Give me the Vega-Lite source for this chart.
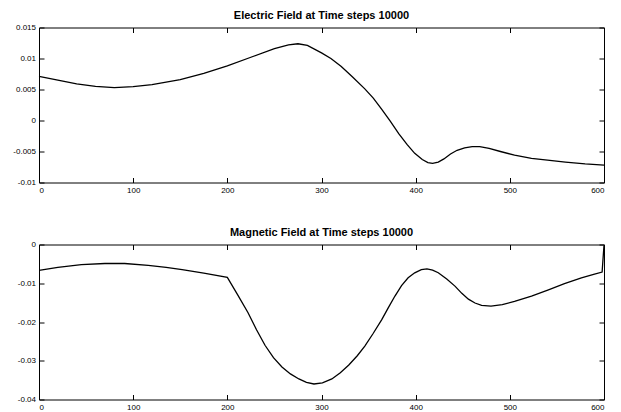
{
  "$schema": "https://vega.github.io/schema/vega-lite/v6.json",
  "autosize": {"type": "pad"},
  "padding": {"left": 12, "top": 9.5, "right": 5, "bottom": 2},
  "bounds": "flush",
  "spacing": 62,
  "background": "white",
  "config": {
    "font": "Liberation Sans",
    "view": {"stroke": null},
    "axis": {
      "grid": false,
      "title": null,
      "domainColor": "black",
      "domainWidth": 1,
      "tickColor": "black",
      "tickWidth": 1,
      "tickSize": -5,
      "labelColor": "black",
      "labelFont": "Liberation Sans",
      "labelFontSize": 8
    },
    "axisX": {"labelPadding": 9},
    "axisY": {"labelPadding": 8.5},
    "title": {"font": "Liberation Sans", "fontSize": 11, "fontWeight": "bold", "color": "black", "offset": 2.5, "anchor": "middle"}
  },
  "datasets": {
    "electric": [
      {"x": 0, "v": 0.0071}, {"x": 20, "v": 0.0065}, {"x": 40, "v": 0.0059}, {"x": 60, "v": 0.0055},
      {"x": 80, "v": 0.0053}, {"x": 100, "v": 0.00545}, {"x": 120, "v": 0.0058}, {"x": 150, "v": 0.0066},
      {"x": 175, "v": 0.0076}, {"x": 200, "v": 0.0088}, {"x": 225, "v": 0.0102}, {"x": 250, "v": 0.0116},
      {"x": 265, "v": 0.0122}, {"x": 275, "v": 0.01238}, {"x": 285, "v": 0.0121}, {"x": 300, "v": 0.0109},
      {"x": 310, "v": 0.0100}, {"x": 321, "v": 0.0087}, {"x": 333, "v": 0.0070}, {"x": 346, "v": 0.0051},
      {"x": 355, "v": 0.0036}, {"x": 364, "v": 0.0018}, {"x": 373, "v": -0.0001}, {"x": 382, "v": -0.0021},
      {"x": 391, "v": -0.0039}, {"x": 399, "v": -0.0053}, {"x": 407, "v": -0.0063}, {"x": 413, "v": -0.0068},
      {"x": 418, "v": -0.0069}, {"x": 424, "v": -0.0067}, {"x": 430, "v": -0.0062}, {"x": 437, "v": -0.0054},
      {"x": 444, "v": -0.0048}, {"x": 452, "v": -0.0044}, {"x": 460, "v": -0.0042}, {"x": 468, "v": -0.0042},
      {"x": 478, "v": -0.0045}, {"x": 490, "v": -0.0050}, {"x": 505, "v": -0.0056},
      {"x": 523, "v": -0.0061}, {"x": 540, "v": -0.0064}, {"x": 559, "v": -0.0067}, {"x": 580, "v": -0.0070},
      {"x": 600, "v": -0.0072}
    ],
    "magnetic": [
      {"x": 0, "v": -0.0067}, {"x": 20, "v": -0.0059}, {"x": 45, "v": -0.0052}, {"x": 70, "v": -0.0049},
      {"x": 91, "v": -0.0049}, {"x": 116, "v": -0.0054}, {"x": 135, "v": -0.0059}, {"x": 152, "v": -0.0065},
      {"x": 175, "v": -0.0074}, {"x": 200, "v": -0.0085}, {"x": 211, "v": -0.0130}, {"x": 222, "v": -0.0176},
      {"x": 231, "v": -0.0220}, {"x": 240, "v": -0.0260}, {"x": 249, "v": -0.0292}, {"x": 258, "v": -0.0316},
      {"x": 267, "v": -0.0334}, {"x": 276, "v": -0.0347}, {"x": 284, "v": -0.0356}, {"x": 292, "v": -0.0360},
      {"x": 301, "v": -0.0357}, {"x": 311, "v": -0.0347}, {"x": 320, "v": -0.0331}, {"x": 329, "v": -0.0311},
      {"x": 338, "v": -0.0287}, {"x": 346, "v": -0.0262}, {"x": 355, "v": -0.0229}, {"x": 364, "v": -0.0194},
      {"x": 371, "v": -0.0163}, {"x": 378, "v": -0.0133}, {"x": 385, "v": -0.0106}, {"x": 392, "v": -0.0086},
      {"x": 399, "v": -0.0073}, {"x": 406, "v": -0.0065}, {"x": 412, "v": -0.0063}, {"x": 418, "v": -0.0066},
      {"x": 424, "v": -0.0073}, {"x": 433, "v": -0.0089}, {"x": 442, "v": -0.0108}, {"x": 449, "v": -0.0126},
      {"x": 456, "v": -0.0141}, {"x": 463, "v": -0.0151}, {"x": 470, "v": -0.0157}, {"x": 480, "v": -0.0159},
      {"x": 492, "v": -0.0155}, {"x": 505, "v": -0.0147}, {"x": 523, "v": -0.0133}, {"x": 541, "v": -0.0117},
      {"x": 558, "v": -0.0101}, {"x": 576, "v": -0.0086}, {"x": 589, "v": -0.0077}, {"x": 598, "v": -0.0071},
      {"x": 600, "v": -0.0002}
    ]
  },
  "vconcat": [
    {
      "title": "Electric Field at Time steps 10000",
      "width": 565,
      "height": 155,
      "data": {"name": "electric"},
      "layer": [
        {
          "mark": {"type": "line", "color": "black", "strokeWidth": 1.3},
          "encoding": {
            "x": {"field": "x", "type": "quantitative", "scale": {"domain": [0, 600], "nice": false, "zero": false},
                  "axis": {"orient": "bottom", "values": [0, 100, 200, 300, 400, 500, 600]}},
            "y": {"field": "v", "type": "quantitative", "scale": {"domain": [-0.01, 0.015], "nice": false, "zero": false},
                  "axis": {"orient": "left", "values": [-0.01, -0.005, 0, 0.005, 0.01, 0.015],
                           "labelExpr": "datum.value < 0 ? '-' + format(-datum.value, '~g') : format(datum.value, '~g')"}}
          }
        },
        {
          "mark": {"type": "line", "opacity": 0},
          "encoding": {
            "x": {"field": "x", "type": "quantitative", "axis": {"orient": "top", "labels": false, "values": [0, 100, 200, 300, 400, 500, 600]}},
            "y": {"field": "v", "type": "quantitative", "axis": {"orient": "right", "labels": false, "values": [-0.01, -0.005, 0, 0.005, 0.01, 0.015]}}
          }
        }
      ],
      "resolve": {"axis": {"x": "independent", "y": "independent"}}
    },
    {
      "title": "Magnetic Field at Time steps 10000",
      "width": 565,
      "height": 155,
      "data": {"name": "magnetic"},
      "layer": [
        {
          "mark": {"type": "line", "color": "black", "strokeWidth": 1.3},
          "encoding": {
            "x": {"field": "x", "type": "quantitative", "scale": {"domain": [0, 600], "nice": false, "zero": false},
                  "axis": {"orient": "bottom", "values": [0, 100, 200, 300, 400, 500, 600]}},
            "y": {"field": "v", "type": "quantitative", "scale": {"domain": [-0.04, 0], "nice": false, "zero": false},
                  "axis": {"orient": "left", "values": [-0.04, -0.03, -0.02, -0.01, 0],
                           "labelExpr": "datum.value < 0 ? '-' + format(-datum.value, '~g') : format(datum.value, '~g')"}}
          }
        },
        {
          "mark": {"type": "line", "opacity": 0},
          "encoding": {
            "x": {"field": "x", "type": "quantitative", "axis": {"orient": "top", "labels": false, "values": [0, 100, 200, 300, 400, 500, 600]}},
            "y": {"field": "v", "type": "quantitative", "axis": {"orient": "right", "labels": false, "values": [-0.04, -0.03, -0.02, -0.01, 0]}}
          }
        }
      ],
      "resolve": {"axis": {"x": "independent", "y": "independent"}}
    }
  ]
}
